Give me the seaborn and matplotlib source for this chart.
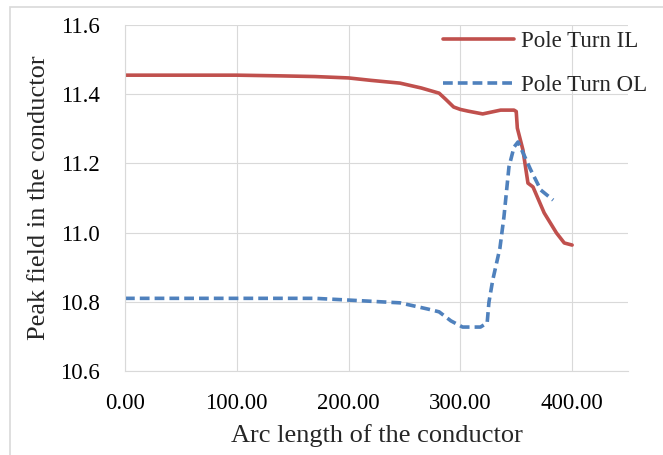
import pandas as pd
import matplotlib.pyplot as plt
import seaborn as sns
from matplotlib.patches import Rectangle

# values
il_arc = [0, 50, 100, 139, 170, 200, 220, 246, 265, 281, 287, 294, 300, 307, 320, 336,
          348, 350, 351, 356, 360.5, 365, 375, 386, 393, 400]
il_field = [11.455, 11.455, 11.455, 11.453, 11.451, 11.447, 11.440, 11.432, 11.418,
            11.403, 11.385, 11.363, 11.356, 11.351, 11.343, 11.354, 11.354, 11.350,
            11.302, 11.239, 11.143, 11.132, 11.057, 10.999, 10.970, 10.964]

ol_arc = [0, 100, 170, 200, 246, 271, 281, 291.5, 302, 318, 324, 325.6, 329, 333.6,
          335.4, 339, 343.5, 348, 351.6, 357, 363, 372, 383]
ol_field = [10.810, 10.810, 10.810, 10.805, 10.797, 10.779, 10.771, 10.745, 10.727,
            10.727, 10.739, 10.799, 10.863, 10.929, 10.955, 11.045, 11.190, 11.247,
            11.262, 11.224, 11.181, 11.123, 11.094]

series_names = ['Pole Turn IL', 'Pole Turn OL']
x_ticks = [0, 100, 200, 300, 400]
y_ticks = [10.6, 10.8, 11.0, 11.2, 11.4, 11.6]

df = pd.concat([
    pd.DataFrame({'arc': il_arc, 'field': il_field, 'series': series_names[0]}),
    pd.DataFrame({'arc': ol_arc, 'field': ol_field, 'series': series_names[1]}),
])

sns.set_style('whitegrid', {'grid.color': '#d9d9d9', 'axes.edgecolor': '#d9d9d9'})
plt.rcParams['font.family'] = ['Liberation Serif', 'DejaVu Serif']

fig = plt.figure(figsize=(6.63, 4.55), dpi=100)
ax = fig.add_axes([125 / 663, 1 - 371 / 455, (628 - 125) / 663, (371 - 25) / 455])

sns.lineplot(data=df, x='arc', y='field', hue='series', style='series',
             palette=['#C0504D', '#4F81BD'], dashes=[(None, None), (2.7, 1.4)],
             estimator=None, sort=False, linewidth=2.6, ax=ax)

ax.set_xlim(0, 450)
ax.set_ylim(10.6, 11.6)
ax.set_xticks(x_ticks)
ax.set_xticklabels([f'{v:.2f}' for v in x_ticks])
ax.set_yticks(y_ticks)
ax.set_yticklabels([f'{v:.1f}' for v in y_ticks])
ax.tick_params(axis='both', length=0, labelsize=16.5, colors='black')
ax.tick_params(axis='y', pad=18)
ax.tick_params(axis='x', pad=16)
for side in ['top', 'right']:
    ax.spines[side].set_visible(False)
ax.spines['left'].set_color('#d9d9d9')
ax.spines['bottom'].set_color('#d9d9d9')

ax.set_xlabel('Arc length of the conductor', fontsize=19, labelpad=7)
ax.set_ylabel('Peak field in the conductor', fontsize=19, labelpad=7)

handles, labels = ax.get_legend_handles_labels()
ax.legend(handles, labels, loc='upper left', bbox_to_anchor=(443 / 663, 1 - 31 / 455),
          bbox_transform=fig.transFigure, frameon=False, fontsize=16.5,
          handlelength=3.1, handletextpad=0.3, labelspacing=0.98,
          borderpad=0, borderaxespad=0)

# light chart-area border like the original
fig.patches.append(Rectangle((10 / 663, -0.1), 1.2, 1 - 7 / 455 + 0.1,
                             transform=fig.transFigure, fill=False,
                             edgecolor='#d9d9d9', linewidth=1.2))

plt.savefig('out.png', dpi=100)
